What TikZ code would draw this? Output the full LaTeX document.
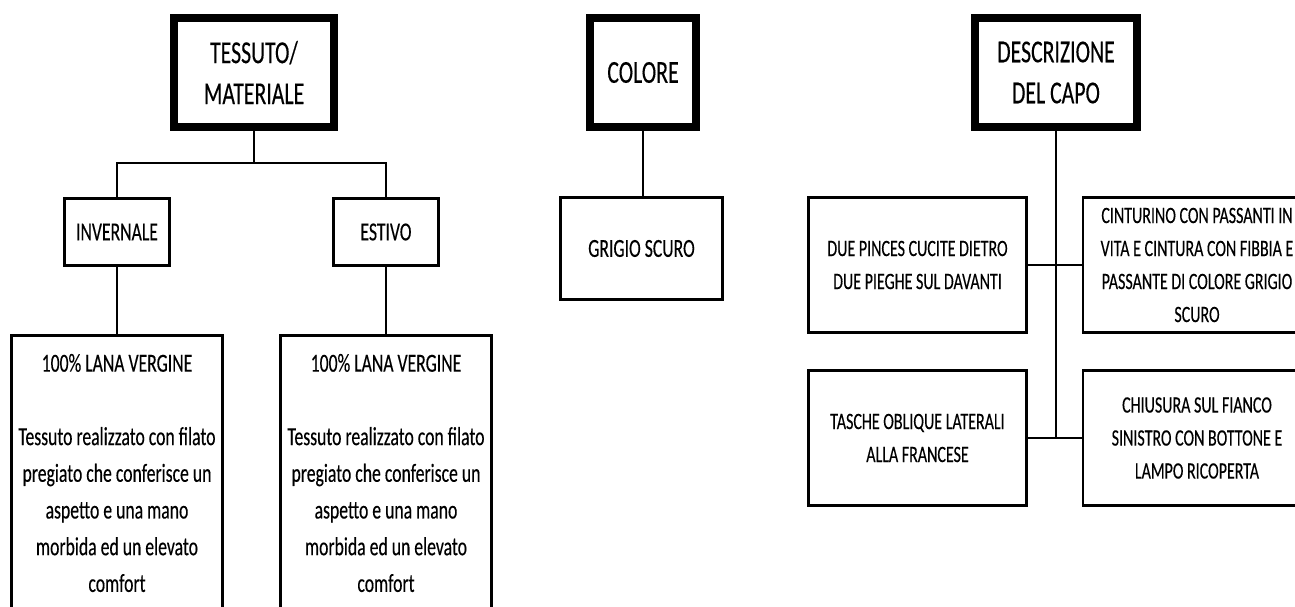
\documentclass[tikz,border=0pt]{standalone}
\usepackage{fontspec}
\setmainfont{Carlito}[FakeStretch=0.68,FakeBold=0.3]
\begin{document}
\begin{tikzpicture}[x=1pt,y=-1pt,
  every node/.style={inner sep=0pt, outer sep=0pt},
  thin box/.style={draw, line width=2.6pt, align=center, font=\fontsize{26}{33}\selectfont},
  side box/.style={draw, line width=2.6pt, align=center, font=\fontsize{23.5}{33}\selectfont},
  thick box/.style={draw, line width=8pt, align=center, font=\fontsize{32}{41}\selectfont},
  body/.style={align=center, font=\fontsize{26}{36.7}\selectfont},
  link/.style={line width=2.6pt}]
\useasboundingbox (0,0) rectangle (1295,606);
% left group
\node[thick box, minimum width=160pt, minimum height=109pt] (tess) at (254,72.5) {TESSUTO/\\MATERIALE};
\node[thin box, minimum width=105.4pt, minimum height=67.4pt] (inv) at (117,232) {INVERNALE};
\node[thin box, minimum width=105.4pt, minimum height=67.4pt] (est) at (386,232) {ESTIVO};
\node[thin box, minimum width=211.4pt, minimum height=400pt] (big1) at (117,535.3) {};
\node[thin box, minimum width=211.4pt, minimum height=400pt] (big2) at (386,535.3) {};
\node[body] (t1) at (117,473) {100\% LANA VERGINE\\[36.7pt]Tessuto realizzato con filato\\pregiato che conferisce un\\aspetto e una mano\\morbida ed un elevato\\comfort};
\node[body] (t2) at (386,473) {100\% LANA VERGINE\\[36.7pt]Tessuto realizzato con filato\\pregiato che conferisce un\\aspetto e una mano\\morbida ed un elevato\\comfort};
\coordinate (bar) at (254,163);
\draw[link] (tess.south) -- (bar);
\draw[link] (inv.north) |- (bar) -| (est.north);
\draw[link] (inv.south) -- (big1.north);
\draw[link] (est.south) -- (big2.north);
% middle group
\node[thick box, minimum width=106pt, minimum height=109pt] (col) at (643,72.5) {COLORE};
\node[thin box, minimum width=162.4pt, minimum height=102.4pt] (gri) at (641.5,248.5) {GRIGIO SCURO};
\draw[link] (col.south) -- (col.south |- gri.north);
% right group
\node[thick box, minimum width=162pt, minimum height=109pt] (desc) at (1056,72.5) {DESCRIZIONE\\DEL CAPO};
\node[side box, minimum width=218.4pt, minimum height=135.4pt] (pin) at (917.5,265) {DUE PINCES CUCITE DIETRO\\DUE PIEGHE SUL DAVANTI};
\node[side box, minimum width=228pt, minimum height=135.4pt] (cin) at (1197,265) {CINTURINO CON PASSANTI IN\\VITA E CINTURA CON FIBBIA E\\PASSANTE DI COLORE GRIGIO\\SCURO};
\node[side box, minimum width=218.4pt, minimum height=135.4pt] (tas) at (917.5,438) {TASCHE OBLIQUE LATERALI\\ALLA FRANCESE};
\node[side box, minimum width=228pt, minimum height=135.4pt] (chi) at (1197,438) {CHIUSURA SUL FIANCO\\SINISTRO CON BOTTONE E\\LAMPO RICOPERTA};
\coordinate (dend) at (1056,438);
\draw[link] (desc.south) -- (dend);
\draw[link] (pin.east) -- (cin.west);
\draw[link] (tas.east) -- (chi.west);
\end{tikzpicture}
\end{document}
